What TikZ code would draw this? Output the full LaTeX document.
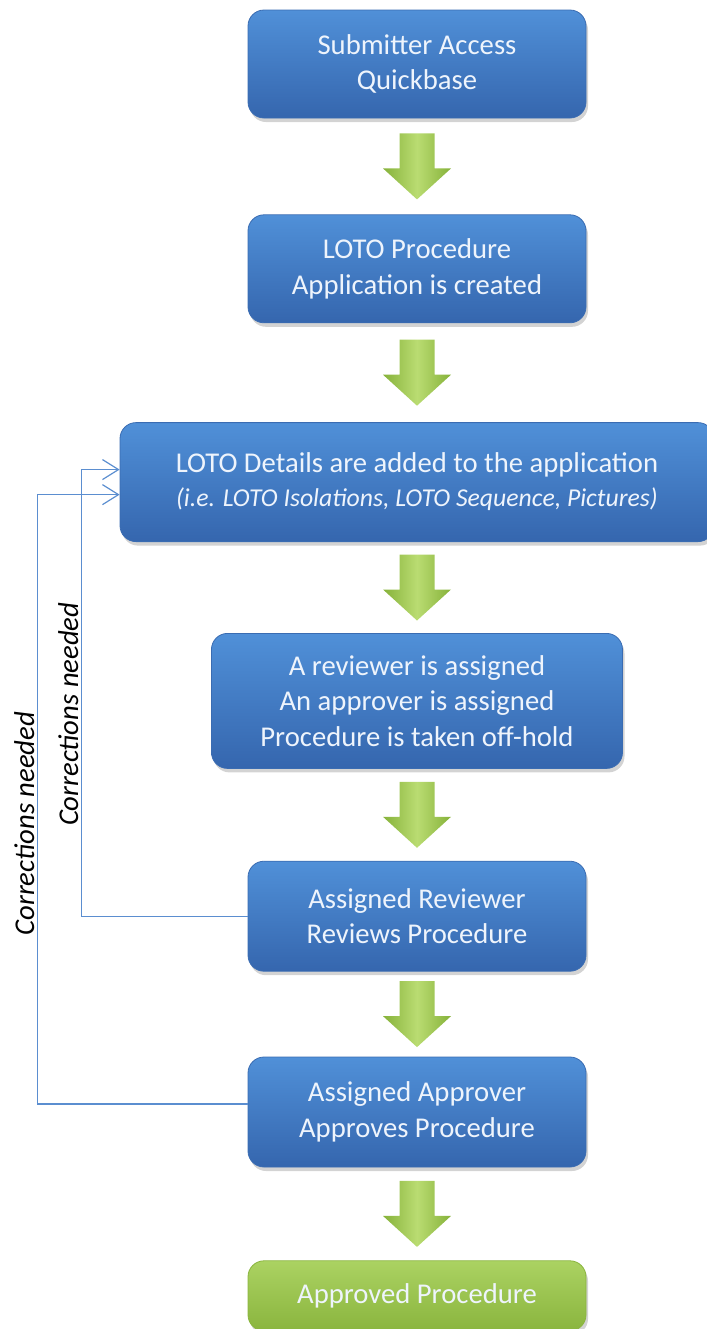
\documentclass[tikz,border=0pt]{standalone}
\usepackage{fontspec}
\setmainfont{Carlito}
\usetikzlibrary{arrows.meta,calc,positioning,shadows}
\definecolor{boxtop}{HTML}{5090D8}
\definecolor{boxbot}{HTML}{3566AE}
\definecolor{boxline}{HTML}{3A6CB2}
\definecolor{oktop}{HTML}{ABD262}
\definecolor{okbot}{HTML}{8AB53E}
\definecolor{arrowside}{HTML}{86B23A}
\definecolor{arrowmid}{HTML}{BADC72}
\definecolor{loopblue}{HTML}{5B8ED0}
\definecolor{boxtext}{HTML}{EEF4FC}
\tikzset{
    stepbox/.style={rectangle,rounded corners=12pt,draw=boxline,line width=0.6pt,
        top color=boxtop,bottom color=boxbot,text=boxtext,align=center,
        font=\fontsize{21.5}{26.5}\selectfont,
        drop shadow={opacity=0.35,shadow xshift=1.5pt,shadow yshift=-3pt}},
    donebox/.style={stepbox,draw=okbot,top color=oktop,bottom color=okbot},
    loopline/.style={draw=loopblue,line width=0.9pt},
    looplabel/.style={rotate=90,anchor=south,inner sep=2pt,text=black,
        font=\itshape\fontsize{21.5}{26}\selectfont},
    blockarrow/.pic={
        \path[left color=arrowside,right color=arrowside,middle color=arrowmid]
            (-17.5,-33) -- (17.5,-33) -- (17.5,2) -- (34,2) -- (0,33)
            -- (-34,2) -- (-17.5,2) -- cycle;
    }
}
\begin{document}
\begin{tikzpicture}[x=0.75pt,y=-0.75pt]
\useasboundingbox (0,0) rectangle (707,1329);
\node[stepbox,minimum width=253.5pt,minimum height=81pt] (access) at (417,64) {Submitter Access\\Quickbase};
\node[stepbox,minimum width=253.5pt,minimum height=81pt,below=72pt of access] (created) {LOTO Procedure\\Application is created};
\node[stepbox,minimum width=445.5pt,minimum height=89.25pt,below=74.25pt of created] (details) {LOTO Details are added to the application\\[-1pt]
    {\itshape\fontsize{19.3}{24}\selectfont (i.e. LOTO Isolations, LOTO Sequence, Pictures)}};
\node[stepbox,minimum width=308.25pt,minimum height=101.25pt,below=68.25pt of details] (assign) {A reviewer is assigned\\An approver is assigned\\Procedure is taken off-hold};
\node[stepbox,minimum width=253.5pt,minimum height=82.5pt,below=69pt of assign] (review) {Assigned Reviewer\\Reviews Procedure};
\node[stepbox,minimum width=253.5pt,minimum height=82.5pt,below=63.75pt of review] (approve) {Assigned Approver\\Approves Procedure};
\node[donebox,minimum width=253.5pt,minimum height=52.5pt,below=69.75pt of approve] (approved) {Approved Procedure};

% green block arrows between the steps
\foreach \a/\b in {access/created,created/details,details/assign,assign/review,review/approve,approve/approved}
    \pic at ($(\a.south)!0.5!(\b.north)$) {blockarrow};

% loops back for corrections
\draw[loopline,-{Straight Barb[length=12pt,width=15pt]}] (review.west) -- ++(-166,0)
    |- node[looplabel,pos=0.226] {Corrections needed} ([yshift=9.4pt]details.west);
\draw[loopline,-{Straight Barb[length=12pt,width=15pt]}] ([yshift=6pt]approve.west) -- ++(-210,0)
    |- node[looplabel,pos=0.23] {Corrections needed} ([yshift=-9.4pt]details.west);
\end{tikzpicture}
\end{document}
